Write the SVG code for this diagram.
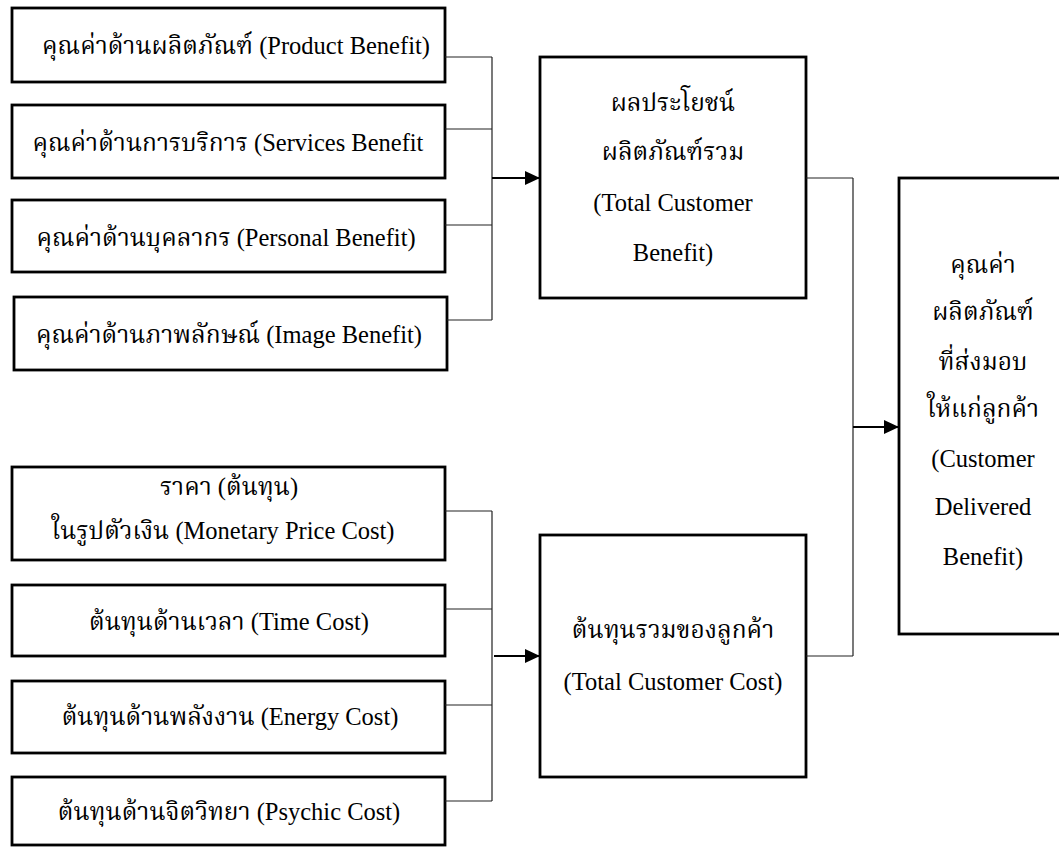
<svg xmlns="http://www.w3.org/2000/svg" width="1059" height="847" viewBox="0 0 1059 847">
<defs>
<style>
.box{fill:#fff;stroke:#000;stroke-width:2.8}
.ln{fill:none;stroke:#222;stroke-width:1.2}
.ar{fill:none;stroke:#000;stroke-width:2.2}
text{font-family:"Liberation Serif","Noto Serif Thai","Noto Sans Thai","Noto Sans",serif;font-size:24.5px;fill:#000;text-anchor:middle}
</style>
<marker id="ah" markerWidth="16" markerHeight="14" refX="15" refY="7" orient="auto" markerUnits="userSpaceOnUse">
<path d="M0,0 L15,7 L0,14 Z" fill="#000"/>
</marker>
</defs>
<rect width="1059" height="847" fill="#fff"/>
<g id="n-product"><rect class="box" x="12" y="8" width="433" height="74"/><text x="236" y="54">คุณค่าด้านผลิตภัณฑ์ (Product Benefit)</text></g>
<g id="n-services"><rect class="box" x="12" y="105" width="433" height="73"/><text x="228" y="151">คุณค่าด้านการบริการ (Services Benefit</text></g>
<g id="n-personal"><rect class="box" x="12" y="200" width="433" height="72"/><text x="226" y="246">คุณค่าด้านบุคลากร (Personal Benefit)</text></g>
<g id="n-image"><rect class="box" x="14" y="297" width="433" height="73"/><text x="229" y="343">คุณค่าด้านภาพลักษณ์ (Image Benefit)</text></g>
<g id="n-tcb"><rect class="box" x="540" y="57" width="266" height="241"/>
<text x="673" y="111">ผลประโยชน์</text><text x="673" y="160">ผลิตภัณฑ์รวม</text><text x="673" y="211">(Total Customer</text><text x="673" y="261">Benefit)</text></g>
<g id="n-monetary"><rect class="box" x="12" y="467" width="433" height="93"/><text x="229" y="495">ราคา (ต้นทุน)</text><text x="223" y="539">ในรูปตัวเงิน (Monetary Price Cost)</text></g>
<g id="n-time"><rect class="box" x="12" y="585" width="433" height="71"/><text x="229" y="630">ต้นทุนด้านเวลา (Time Cost)</text></g>
<g id="n-energy"><rect class="box" x="12" y="681" width="433" height="72"/><text x="230" y="725">ต้นทุนด้านพลังงาน (Energy Cost)</text></g>
<g id="n-psychic"><rect class="box" x="12" y="777" width="433" height="68"/><text x="229" y="820">ต้นทุนด้านจิตวิทยา (Psychic Cost)</text></g>
<g id="n-tcc"><rect class="box" x="540" y="535" width="266" height="242"/><text x="673" y="638">ต้นทุนรวมของลูกค้า</text><text x="673" y="690">(Total Customer Cost)</text></g>
<g id="n-cdb"><rect class="box" x="899" y="178" width="168" height="456"/>
<text x="983" y="273">คุณค่า</text><text x="983" y="320">ผลิตภัณฑ์</text><text x="983" y="370">ที่ส่งมอบ</text><text x="983" y="417">ให้แก่ลูกค้า</text><text x="983" y="467">(Customer</text><text x="983" y="515">Delivered</text><text x="983" y="565">Benefit)</text></g>
<g id="connectors">
<path class="ln" d="M445,57 H492 M445,129 H492 M445,225 H492 M447,320 H492 M492,57 V320"/>
<path class="ar" d="M492,178 H540" marker-end="url(#ah)"/>
<path class="ln" d="M445,511 H492 M445,609 H492 M445,705 H492 M445,801 H492 M492,511 V801"/>
<path class="ar" d="M494,656 H540" marker-end="url(#ah)"/>
<path class="ln" d="M806,178 H853 M806,656 H853 M853,178 V656"/>
<path class="ar" d="M853,427 H899" marker-end="url(#ah)"/>
</g>
</svg>
